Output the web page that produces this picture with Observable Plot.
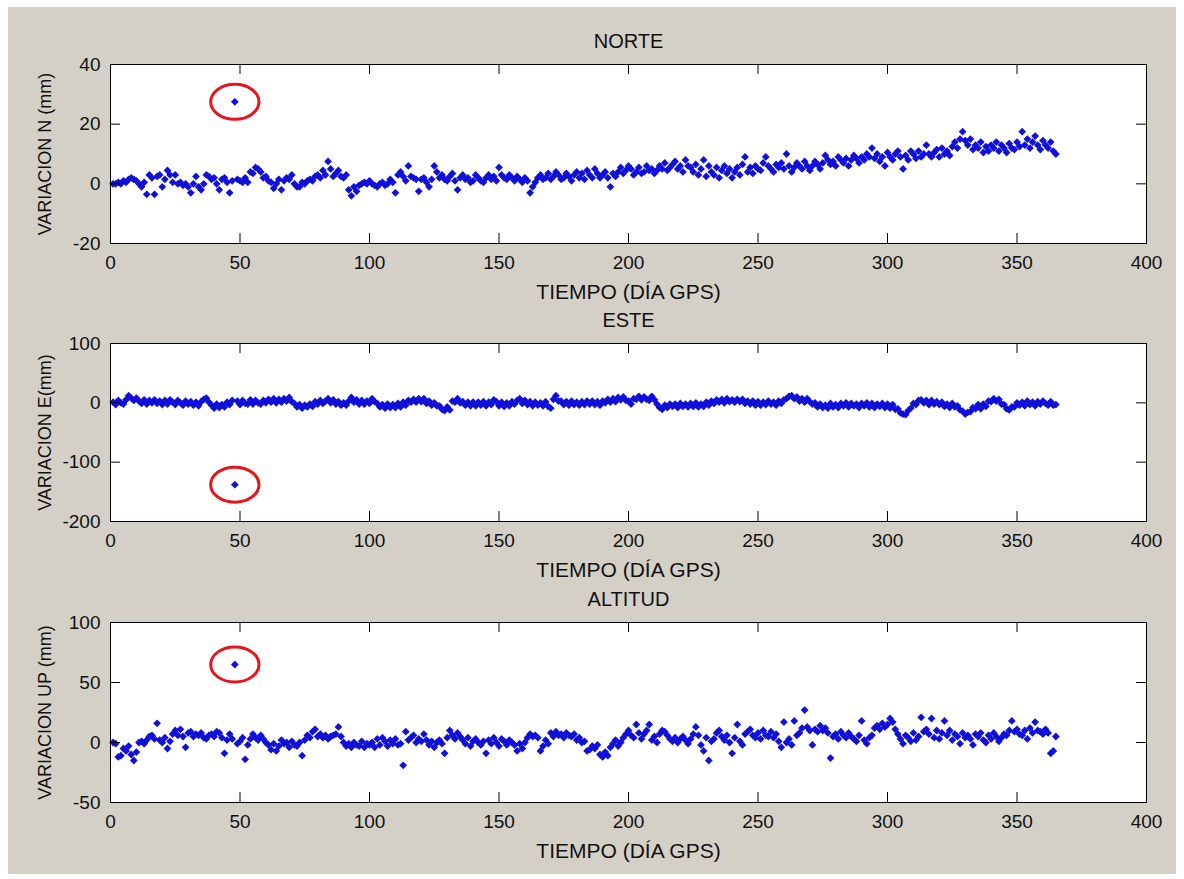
<!DOCTYPE html>
<html>
<head>
<meta charset="utf-8">
<script src="https://cdn.jsdelivr.net/npm/d3@7"></script>
<script src="https://cdn.jsdelivr.net/npm/@observablehq/plot@0.6"></script>
<style>
  body { margin: 0; background: #ffffff; }
  #fig { position: relative; width: 1184px; height: 879px; overflow: hidden; background: #ffffff; }
  #bg { position: absolute; left: 8px; top: 7px; width: 1168px; height: 867px; background: #d4d0c8; }
  .panel { position: absolute; left: 0; }
</style>
</head>
<body>
<div id="fig"><div id="bg"></div></div>
<script>
// Daily GPS coordinate variations (mm), one value per GPS day 1..365
const norte = [
  0, 0, 0.5, 0, 1, 0.5, 1.5, 2, 1.5, 1,
  0, -1, 0.5, -3.5, 3, 2, -3.5, 2.5, 3, -1,
  1.5, 4.5, 3, 0.5, 3, 0, 0.5, -0.5, 0, -1,
  -3, 0, 2.5, -1, -2, 0, 3, 2.5, 1.5, 2,
  0, -2, 1.5, 2, 0.5, -3, 1, 27.5, 1.5, 1,
  0.5, 2, 0.5, 4, 3.5, 5.5, 5, 4, 2, 2.5,
  1, 0.5, -1.5, 0, 1.5, -2, 1, 2, 1.5, 3,
  0, -1, -1, 0.5, 0, 1, 1.5, 1, 2.5, 3,
  2, 4.5, 3, 7.5, 5, 2.5, 3.5, 4.5, 2.5, 2,
  3, -2, -4, -1, -2.5, -0.5, 0, 0.5, 0, 1,
  0, -0.5, -1, 0, 0.5, -0.5, 0, 1.5, 0.5, -3,
  3, 4, 2.5, 1, 6, 2.5, 2, 1.5, -2.5, 1.5,
  2, 0.5, -1, 1.5, 6, 4, 2, 3, 1.5, 1,
  2.5, 3.5, 1, -2, 2, 3, 1.5, 2, 0.5, 1,
  3, 2, 1, 0.5, 2, 3, 1.5, 2.5, 1, 5.5,
  3, 2, 1.5, 3, 2, 1, 2.5, 1.5, 0.5, 2,
  1, -3, -1, 0.5, 2, 3, 1.5, 2, 3.5, 1.5,
  2.5, 4, 3, 1.5, 2, 3.5, 2.5, 1, 3, 4,
  2, 3.5, 1.5, 4.5, 3, 2, 5, 3.5, 2, 3,
  4, 2, -1, 3.5, 2.5, 4, 5.5, 3.5, 4.5, 6,
  5, 3, 4, 5.5, 3.5, 4, 6, 4.5, 5, 3.5,
  4.5, 6, 5, 7, 4.5, 5.5, 6.5, 7.5, 5, 6,
  4, 8, 6, 5.5, 4, 6.5, 3, 5, 8, 2.5,
  6, 4, 3, 5.5, 2, 4.5, 6, 3.5, 5, 2,
  4, 5.5, 3, 6.5, 9, 4, 5.5, 3.5, 6, 5,
  4.5, 7, 9, 6, 5, 4, 6.5, 5.5, 7, 5,
  10, 6, 4, 5.5, 7, 6, 5, 7.5, 6, 4.5,
  6, 7.5, 6.5, 5, 7, 9.5, 8, 6.5, 7.5, 6,
  9, 8, 7, 8.5, 6, 8, 9.5, 8.5, 7, 9,
  8, 10, 9, 12, 8.5, 10, 7.5, 9, 6, 10.5,
  9, 8, 10, 11, 9, 5, 9.5, 8, 11, 10,
  8.5, 11, 9, 10, 13, 10, 9, 10.5, 11.5, 9,
  12, 10, 11, 9.5, 12.5, 14, 12, 15, 17.5, 14.5,
  13, 15, 11.5, 13, 12, 14, 10.5, 12.5, 11, 13,
  12, 14, 11, 13, 12, 10.5, 13.5, 12, 11.5, 14,
  12.5, 17.5, 13, 15, 12, 14, 16, 13, 11.5, 14.5,
  13, 12, 14, 11, 10
];

const este = [
  1, -3, 4, 0, -2, 5, 12, 8, 4, 8,
  3, -1, 5, -2, 4, 0, 5, -1, 3, -3,
  4, -2, 5, 1, -3, 4, 0, -4, 3, -2,
  2, -4, 1, -5, 2, 6, 8, 1, -4, -9,
  -2, -8, -3, -7, 1, -3, 4, -138, 3, -3,
  4, -1, -2, 5, -2, 4, 0, -2, 4, 0,
  6, 1, 7, 0, 6, 1, 7, 3, 9, 2,
  -1, -7, -3, -9, -4, -7, -2, -6, 2, -2,
  4, -1, 3, 7, 0, 5, -2, 2, -4, 0,
  -4, 3, 9, 1, 5, -2, 4, -2, 3, -1,
  7, 2, -1, -7, -3, -9, -2, -8, -3, -8,
  -1, -7, 1, -4, 4, 1, 6, 1, 7, 2,
  7, -1, 3, -4, 0, -5, -5, -11, -13, -7,
  -12, 3, 1, 7, 0, 2, -4, 1, -5, 1,
  -5, 1, -4, 2, -5, 1, -3, 5, 2, -5,
  1, -6, 0, -5, 2, -2, 4, 7, -1, 4,
  -3, 2, -5, 1, -4, 0, -5, 2, -6, -9,
  6, 12, 3, 3, -3, 2, -4, 3, -3, 1,
  -4, 2, -3, 3, -2, 3, -3, 2, -4, 3,
  0, 6, 1, 7, 2, 9, 5, 10, 4, 3,
  -2, 7, 6, 11, 5, 10, 6, 4, 11, 5,
  -2, -8, -11, -4, -8, -2, -6, -2, -8, -1,
  -6, -2, -7, -1, -6, 0, -7, -2, -6, 1,
  -4, 3, -1, 5, 1, 6, 0, 7, 2, 5,
  1, 6, 2, 6, -1, 3, -2, 3, -4, 2,
  -4, 1, -3, 3, -2, 1, -4, 3, -1, 5,
  7, 11, 12, 7, 10, 3, 7, 1, 7, 2,
  -2, 0, -7, -2, -8, -4, -9, -1, -7, -3,
  -8, -1, -5, 0, -7, -1, -5, -2, -8, -1,
  -5, 0, -7, -1, -8, -2, -6, -1, -8, -2,
  -9, -3, -11, -10, -17, -19, -20, -13, -9, -1,
  -3, 4, 5, 0, 4, -3, 4, -2, 2, -3,
  1, -6, -2, -8, -1, -7, -5, -12, -14, -19,
  -16, -15, -8, -10, -3, -10, -2, -6, 3, 2,
  7, 3, 6, -2, -3, -10, -12, -7, -7, 0,
  -4, 1, -5, 3, -3, 1, -5, 2, -2, 3,
  -1, -4, 2, -4, -3
];

const altitud = [
  0, -1, -12, -11, -5, -7, -3, -10, -15, -8,
  0, 1, -1, 2, 5, 6, 3, 16, 2, 0,
  4, -5, 1, 7, 10, 6, 11, 5, -4, 8,
  9, 5, 7, 6, 8, 4, 3, 6, 7, 5,
  9, 8, 4, -9, 2, 7, 3, 65, -1, 1,
  4, -14, -2, 3, 7, 4, 2, 6, 3, 0,
  -2, -6, -1, -7, -3, 2, -1, 0, -4, 1,
  -2, -3, 0, -11, 2, 6, 4, 9, 11, 5,
  7, 4, 6, 3, 5, 6, 7, 13, 5, 0,
  -3, -1, -4, 0, -2, -3, 1, -4, -1, -2,
  0, -4, 3, -2, 4, 1, -3, 2, -1, 3,
  -2, -1, -19, 9, 2, 4, 6, 0, 3, 1,
  7, 2, -2, 1, -4, 0, 2, -1, -9, 4,
  10, 6, 3, 8, 5, 2, -1, 4, -3, 1,
  3, 0, -2, 1, -9, 2, -1, 4, 0, -3,
  3, 1, -2, 2, 0, -2, -7, -1, -5, 0,
  4, 7, 5, 6, 4, -7, -3, 2, -1, 8,
  5, 9, 6, 7, 4, 8, 6, 5, 7, 2,
  4, 0, 1, -7, -6, -3, -5, -2, -10, -12,
  -8, -11, -4, -1, 2, -3, 0, 4, 7, 10,
  6, 4, 15, 8, 3, 7, 10, 15, 2, 5,
  0, 7, 10, 9, 6, 3, 1, 4, 0, 3,
  5, 2, -1, 3, 7, 13, 6, -2, -7, 4,
  -15, 1, 3, 8, 10, 5, 2, 6, 0, -9,
  4, 15, 1, -2, 7, 9, 11, 6, 4, 8,
  3, 10, 6, 5, 9, 4, 7, 1, -4, 17,
  0, 3, -2, 18, 6, 8, 12, 27, 13, 10,
  -2, 11, 9, 14, 10, 12, 8, -13, 5, 7,
  3, 9, 6, 4, 8, 5, 3, 1, 6, 18,
  2, -1, 4, 6, 12, 14, 11, 16, 13, 15,
  20, 17, 11, 7, 3, -1, 6, 4, 1, 8,
  2, 5, 21, 9, 11, 7, 20, 4, 10, 3,
  8, 18, 6, 10, 2, 7, 5, -1, 8, 4,
  6, 3, -2, 7, 5, 8, 2, 0, 6, 3,
  8, 5, 1, 4, 7, 6, 10, 18, 9, 11,
  7, 6, 10, 3, 12, 8, 17, 10, 9, 7,
  11, 8, -9, -7, 5
];

// Day flagged as anomalous in all three components
const flaggedDay = 48;

// Axis ticks
const xTicks = [0, 50, 100, 150, 200, 250, 300, 350, 400];
const yTicksN = [-20, 0, 20, 40];
const yTicksE = [-200, -100, 0, 100];
const yTicksU = [-50, 0, 50, 100];

// Titles and labels
const titles = ["NORTE", "ESTE", "ALTITUD"];
const yLabels = ["VARIACION N (mm)", "VARIACION E(mm)", "VARIACION UP (mm)"];
const xLabel = "TIEMPO (DÍA GPS)";

const BLUE = "#1010d8";
const INK = "#111";
const FONT = "'Liberation Sans', Arial, Helvetica, sans-serif";

// Ellipse outline used to circle the flagged observation
const ellipseSymbol = {
  draw(context, size) {
    const r = Math.sqrt(size / Math.PI);
    const rx = r * 1.38, ry = r, k = 0.5523;
    context.moveTo(rx, 0);
    context.bezierCurveTo(rx, ry * k, rx * k, ry, 0, ry);
    context.bezierCurveTo(-rx * k, ry, -rx, ry * k, -rx, 0);
    context.bezierCurveTo(-rx, -ry * k, -rx * k, -ry, 0, -ry);
    context.bezierCurveTo(rx * k, -ry, rx, -ry * k, rx, 0);
    context.closePath();
  }
};

function panel(values, title, ylabel, yDomain, yTicks, frameTop, frameH) {
  const W = 1184, ml = 110, mr = 38, mt = 40, mb = 62;
  const frameW = W - ml - mr;
  const data = values.map((v, i) => ({day: i + 1, v}));
  const flagged = data.filter(d => d.day === flaggedDay);
  const svg = Plot.plot({
    width: W,
    height: mt + frameH + mb,
    marginLeft: ml, marginRight: mr, marginTop: mt, marginBottom: mb,
    style: {background: "transparent", fontFamily: FONT, color: "#000", overflow: "visible"},
    x: {domain: [0, 400], axis: null},
    y: {domain: yDomain, axis: null},
    marks: [
      Plot.frame({fill: "white"}),
      Plot.dot(data, {x: "day", y: "v", symbol: "diamond2", r: 3.5, fill: BLUE, stroke: "none"}),
      Plot.dot(flagged, {x: "day", y: "v", symbol: ellipseSymbol, r: 17.5, stroke: "#e8141c", strokeWidth: 3, fill: "none"}),
      // inward ticks on all four sides
      Plot.tickX(xTicks, {x: d => d, insetTop: frameH - 10, stroke: "black"}),
      Plot.tickX(xTicks, {x: d => d, insetBottom: frameH - 10, stroke: "black"}),
      Plot.tickY(yTicks, {y: d => d, insetRight: frameW - 10, stroke: "black"}),
      Plot.tickY(yTicks, {y: d => d, insetLeft: frameW - 10, stroke: "black"}),
      Plot.frame({stroke: "black"}),
      Plot.text(xTicks, {x: d => d, frameAnchor: "bottom", lineAnchor: "middle", dy: 19, text: d => String(d), fontSize: 19, fill: INK}),
      Plot.text(yTicks, {y: d => d, frameAnchor: "left", lineAnchor: "middle", dx: -10, textAnchor: "end", text: d => String(d), fontSize: 19, fill: INK}),
      Plot.text([title], {frameAnchor: "top", lineAnchor: "middle", dy: -23, text: d => d, fontSize: 20, fill: INK}),
      Plot.text([xLabel], {frameAnchor: "bottom", lineAnchor: "middle", dy: 49, text: d => d, fontSize: 21, fill: INK}),
      Plot.text([ylabel], {frameAnchor: "left", textAnchor: "middle", lineAnchor: "middle", dx: -65, rotate: -90, text: d => d, fontSize: 18, fill: INK})
    ]
  });
  svg.classList.add("panel");
  svg.style.top = (frameTop - mt) + "px";
  document.getElementById("fig").appendChild(svg);
}

panel(norte, titles[0], yLabels[0], [-20, 40], yTicksN, 64, 179);
panel(este, titles[1], yLabels[1], [-200, 100], yTicksE, 343, 178);
panel(altitud, titles[2], yLabels[2], [-50, 100], yTicksU, 622, 180);
</script>
</body>
</html>
